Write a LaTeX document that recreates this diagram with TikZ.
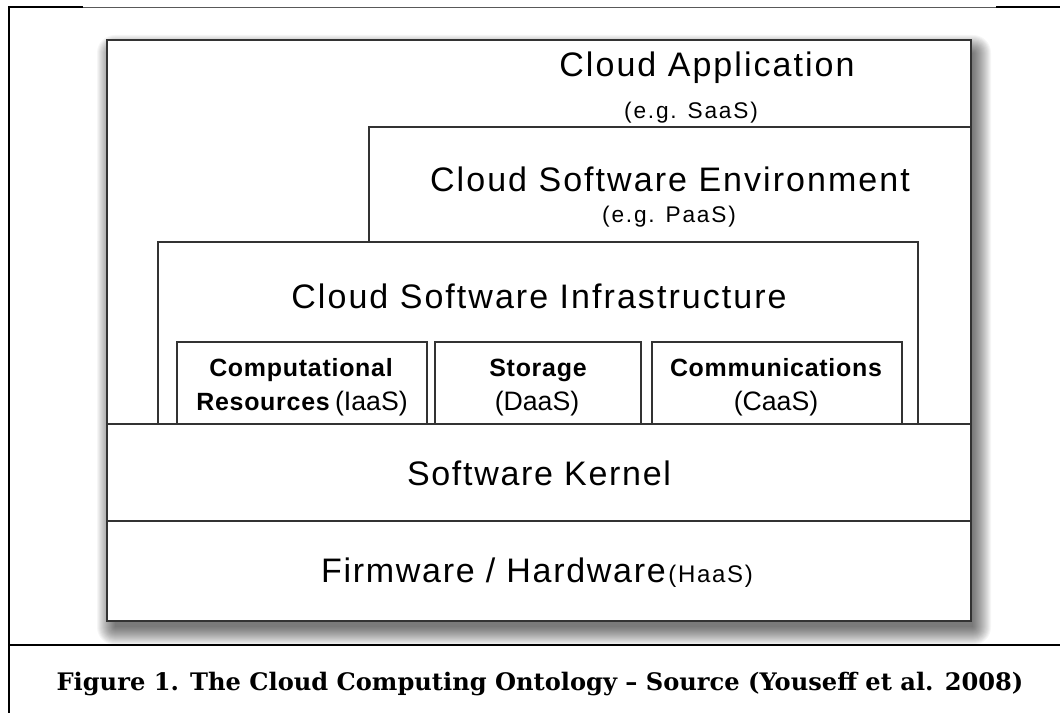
\documentclass[tikz,border=0pt]{standalone}
\usepackage{fontspec}
\setmainfont{Liberation Sans}
\newfontfamily\capfont{DejaVu Serif}
\definecolor{linec}{HTML}{333333}
\newcommand\lab[3]{{\fontsize{#1}{#1}\selectfont\addfontfeature{LetterSpace=#2}#3}}
\begin{document}
\begin{tikzpicture}[x=0.75pt,y=-0.75pt,
  layer/.style={draw=linec, line width=0.9pt, fill=white},
  outerbox/.style={draw=linec, line width=1.4pt},
  lbl/.style={inner sep=0pt, anchor=base},
  thickrule/.style={black, line width=1.5pt},
  thinrule/.style={line width=0.8pt}]
\useasboundingbox (0,0) rectangle (1060,713);
\fill[white] (0,0) rectangle (1060,713);
% page frame
\draw[thickrule] (8.5,713) -- (8.5,7.5) -- (83,7.5);
\draw[thinrule, black!65] (83,7.5) -- (996,7.5);
\draw[thickrule] (996,7.5) -- (1060,7.5);
\draw[thickrule] (8.5,645) -- (83,645);
\draw[thinrule, black] (83,645) -- (996,645);
\draw[thickrule] (996,645) -- (1060,645);
% shadow
\foreach \k in {0,...,18}
  \fill[black, fill opacity=0.036, rounded corners=\k*0.75pt] (115-\k,53-\k) rectangle (973+\k,627+\k);
% layers
\coordinate (appNW) at (107,40);
\coordinate (appSE) at (971,424);
\draw[layer] (appNW) rectangle (appSE);
\draw[layer] (369,127) rectangle (971,424);
\draw[layer] (158,242) rectangle (918,424);
\draw[layer] (177,342) rectangle (427,424);
\draw[layer] (435,342) rectangle (641,424);
\draw[layer] (652,342) rectangle (902,424);
\draw[layer] (107,424) rectangle (971,521);
\draw[layer] (107,521) rectangle (971,621);
\draw[outerbox] (107,40) rectangle (971,621);
% labels
\node[lbl] (app) at (707,77) {\lab{25.5pt}{6}{Cloud Application}};
\node[lbl] (saas) at (691,119) {\lab{17pt}{8}{(e.g. SaaS)}};
\node[lbl] (env) at (670,191) {\lab{25.5pt}{6}{Cloud Software Environment}};
\node[lbl] (paas) at (669,223) {\lab{17pt}{8}{(e.g. PaaS)}};
\node[lbl] (infra) at (539,308) {\lab{25.5pt}{6}{Cloud Software Infrastructure}};
\node[lbl] (comp1) at (301,376) {\lab{18.7pt}{3}{\bfseries Computational}};
\node[lbl] (comp2) at (302,410) {\lab{18.7pt}{3}{\bfseries Resources}\hspace{4pt}\lab{20pt}{0}{(IaaS)}};
\node[lbl] (stor1) at (538,376) {\lab{18.7pt}{3}{\bfseries Storage}};
\node[lbl] (stor2) at (537,410) {\lab{20pt}{0}{(DaaS)}};
\node[lbl] (comm1) at (776,376) {\lab{18.7pt}{3}{\bfseries Communications}};
\node[lbl] (comm2) at (776,410) {\lab{20pt}{0}{(CaaS)}};
\node[lbl] (kern) at (539,485) {\lab{25.5pt}{5}{Software Kernel}};
\node[lbl] (hw) at (537,582) {\lab{25.5pt}{5}{Firmware / Hardware}\hspace{2pt}\lab{18pt}{7}{(HaaS)}};
\node[lbl] (cap) at (540,690) {\capfont\bfseries\fontsize{18.1pt}{18.1pt}\selectfont Figure 1. The Cloud Computing Ontology – Source (Youseff et al. 2008)};
\end{tikzpicture}
\end{document}
